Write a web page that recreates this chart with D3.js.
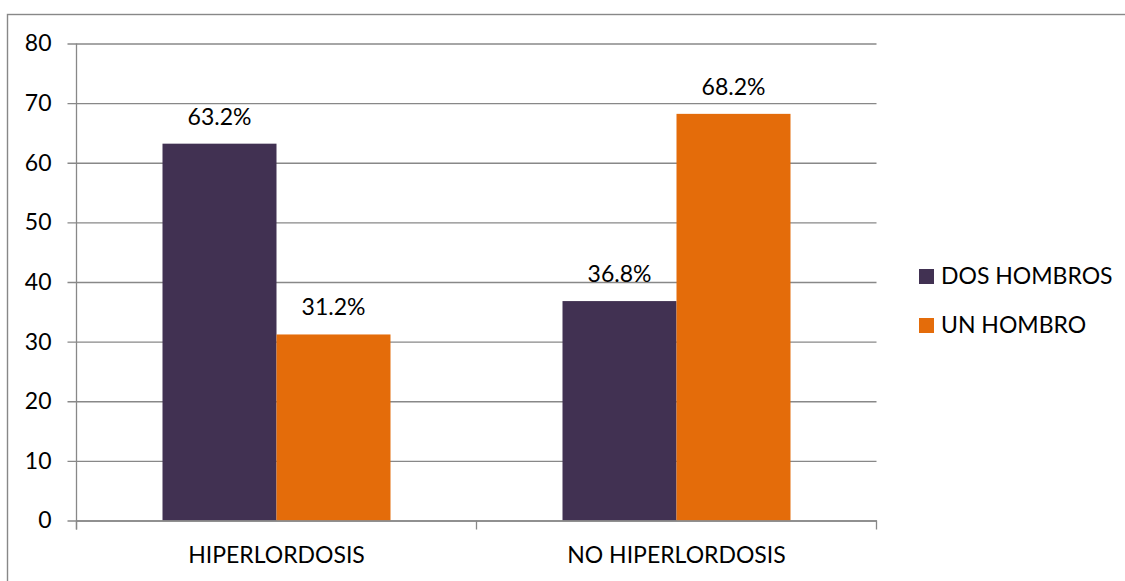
<!DOCTYPE html>
<html>
<head>
<meta charset="utf-8">
<script src="https://cdn.jsdelivr.net/npm/d3@7"></script>
<style>
  html, body { margin: 0; padding: 0; background: #fff; }
  svg { display: block; font-family: Lato, "Open Sans", sans-serif; }
</style>
</head>
<body>
<svg id="chart" width="1125" height="581"></svg>
<script>
// Categories, series and axis ticks
const categories = ["HIPERLORDOSIS", "NO HIPERLORDOSIS"];
const seriesNames = ["DOS HOMBROS", "UN HOMBRO"];
const dosHombros = [63.2, 36.8];
const unHombro = [31.2, 68.2];
const yTicks = [0, 10, 20, 30, 40, 50, 60, 70, 80];
const seriesColors = ["#413152", "#E46C0A"];

const series = [dosHombros, unHombro];

const svg = d3.select("#chart");
const gridColor = "#888888";
const fontSize = 23;

// Outer frame (right/bottom edges fall outside the canvas)
svg.append("rect")
  .attr("x", 7.5).attr("y", 14.5)
  .attr("width", 1300).attr("height", 700)
  .attr("fill", "none").attr("stroke", gridColor).attr("stroke-width", 1.4);

const plot = { left: 76.5, right: 876.5, top: 43.5, bottom: 520.5 };

const x = d3.scaleBand()
  .domain(categories)
  .range([plot.left, plot.right])
  .paddingInner(0).paddingOuter(0);

// Bars occupy 57% of each category band, centered
const groupFrac = 0.57;
const x1 = d3.scaleBand()
  .domain(d3.range(series.length))
  .range([0, x.bandwidth() * groupFrac]);
const groupOffset = x.bandwidth() * (1 - groupFrac) / 2;

const y = d3.scaleLinear().domain([0, 80]).range([plot.bottom, plot.top]);

// Horizontal gridlines with short outer ticks
const yAxis = d3.axisLeft(y)
  .tickValues(yTicks)
  .tickSize(-(plot.right - plot.left))
  .tickSizeOuter(0)
  .tickPadding(25)
  .tickFormat(d3.format("d"));

const gy = svg.append("g")
  .attr("transform", `translate(${plot.left},0)`)
  .call(yAxis);
gy.select(".domain").remove();
gy.selectAll(".tick line")
  .attr("x1", -9)
  .attr("stroke", gridColor).attr("stroke-width", 1.3);
gy.selectAll(".tick text")
  .attr("fill", "#000").attr("font-size", fontSize)
  .attr("font-family", "Lato, 'Open Sans', sans-serif");

// Vertical axis line
svg.append("line")
  .attr("x1", plot.left).attr("x2", plot.left)
  .attr("y1", plot.top).attr("y2", plot.bottom + 9)
  .attr("stroke", gridColor).attr("stroke-width", 1.3);

// Bars
const groups = svg.append("g").selectAll("g")
  .data(categories)
  .join("g")
  .attr("transform", d => `translate(${x(d) + groupOffset},0)`);

groups.each(function(cat, ci) {
  const g = d3.select(this);
  series.forEach((vals, si) => {
    const v = vals[ci];
    g.append("rect")
      .attr("x", x1(si))
      .attr("y", y(v))
      .attr("width", x1.bandwidth())
      .attr("height", y(0) - y(v))
      .attr("fill", seriesColors[si]);
    g.append("text")
      .attr("x", x1(si) + x1.bandwidth() / 2)
      .attr("y", y(v) - 19)
      .attr("text-anchor", "middle")
      .attr("font-size", fontSize)
      .attr("fill", "#000")
      .text(d3.format(".1f")(v) + "%");
  });
});

// Category axis along the bottom
const xAxis = d3.axisBottom(x).tickSize(0).tickPadding(26).tickSizeOuter(0);
const gx = svg.append("g")
  .attr("transform", `translate(0,${plot.bottom})`)
  .call(xAxis);
gx.select(".domain").attr("stroke", gridColor).attr("stroke-width", 1.3);
gx.selectAll(".tick text")
  .attr("fill", "#000").attr("font-size", fontSize)
  .attr("font-family", "Lato, 'Open Sans', sans-serif");

// Category boundary ticks
const boundaries = [plot.left, ...categories.slice(1).map(c => x(c)), plot.right];
svg.append("g").selectAll("line")
  .data(boundaries)
  .join("line")
  .attr("x1", d => d).attr("x2", d => d)
  .attr("y1", plot.bottom).attr("y2", plot.bottom + 9)
  .attr("stroke", gridColor).attr("stroke-width", 1.3);

// Legend
const legend = svg.append("g").attr("transform", "translate(919,269)");
const item = legend.selectAll("g")
  .data(seriesNames)
  .join("g")
  .attr("transform", (d, i) => `translate(0,${i * 49})`);
item.append("rect")
  .attr("width", 15).attr("height", 15)
  .attr("fill", (d, i) => seriesColors[i]);
item.append("text")
  .attr("x", 22).attr("y", 15)
  .attr("font-size", fontSize).attr("fill", "#000")
  .text(d => d);
</script>
</body>
</html>
